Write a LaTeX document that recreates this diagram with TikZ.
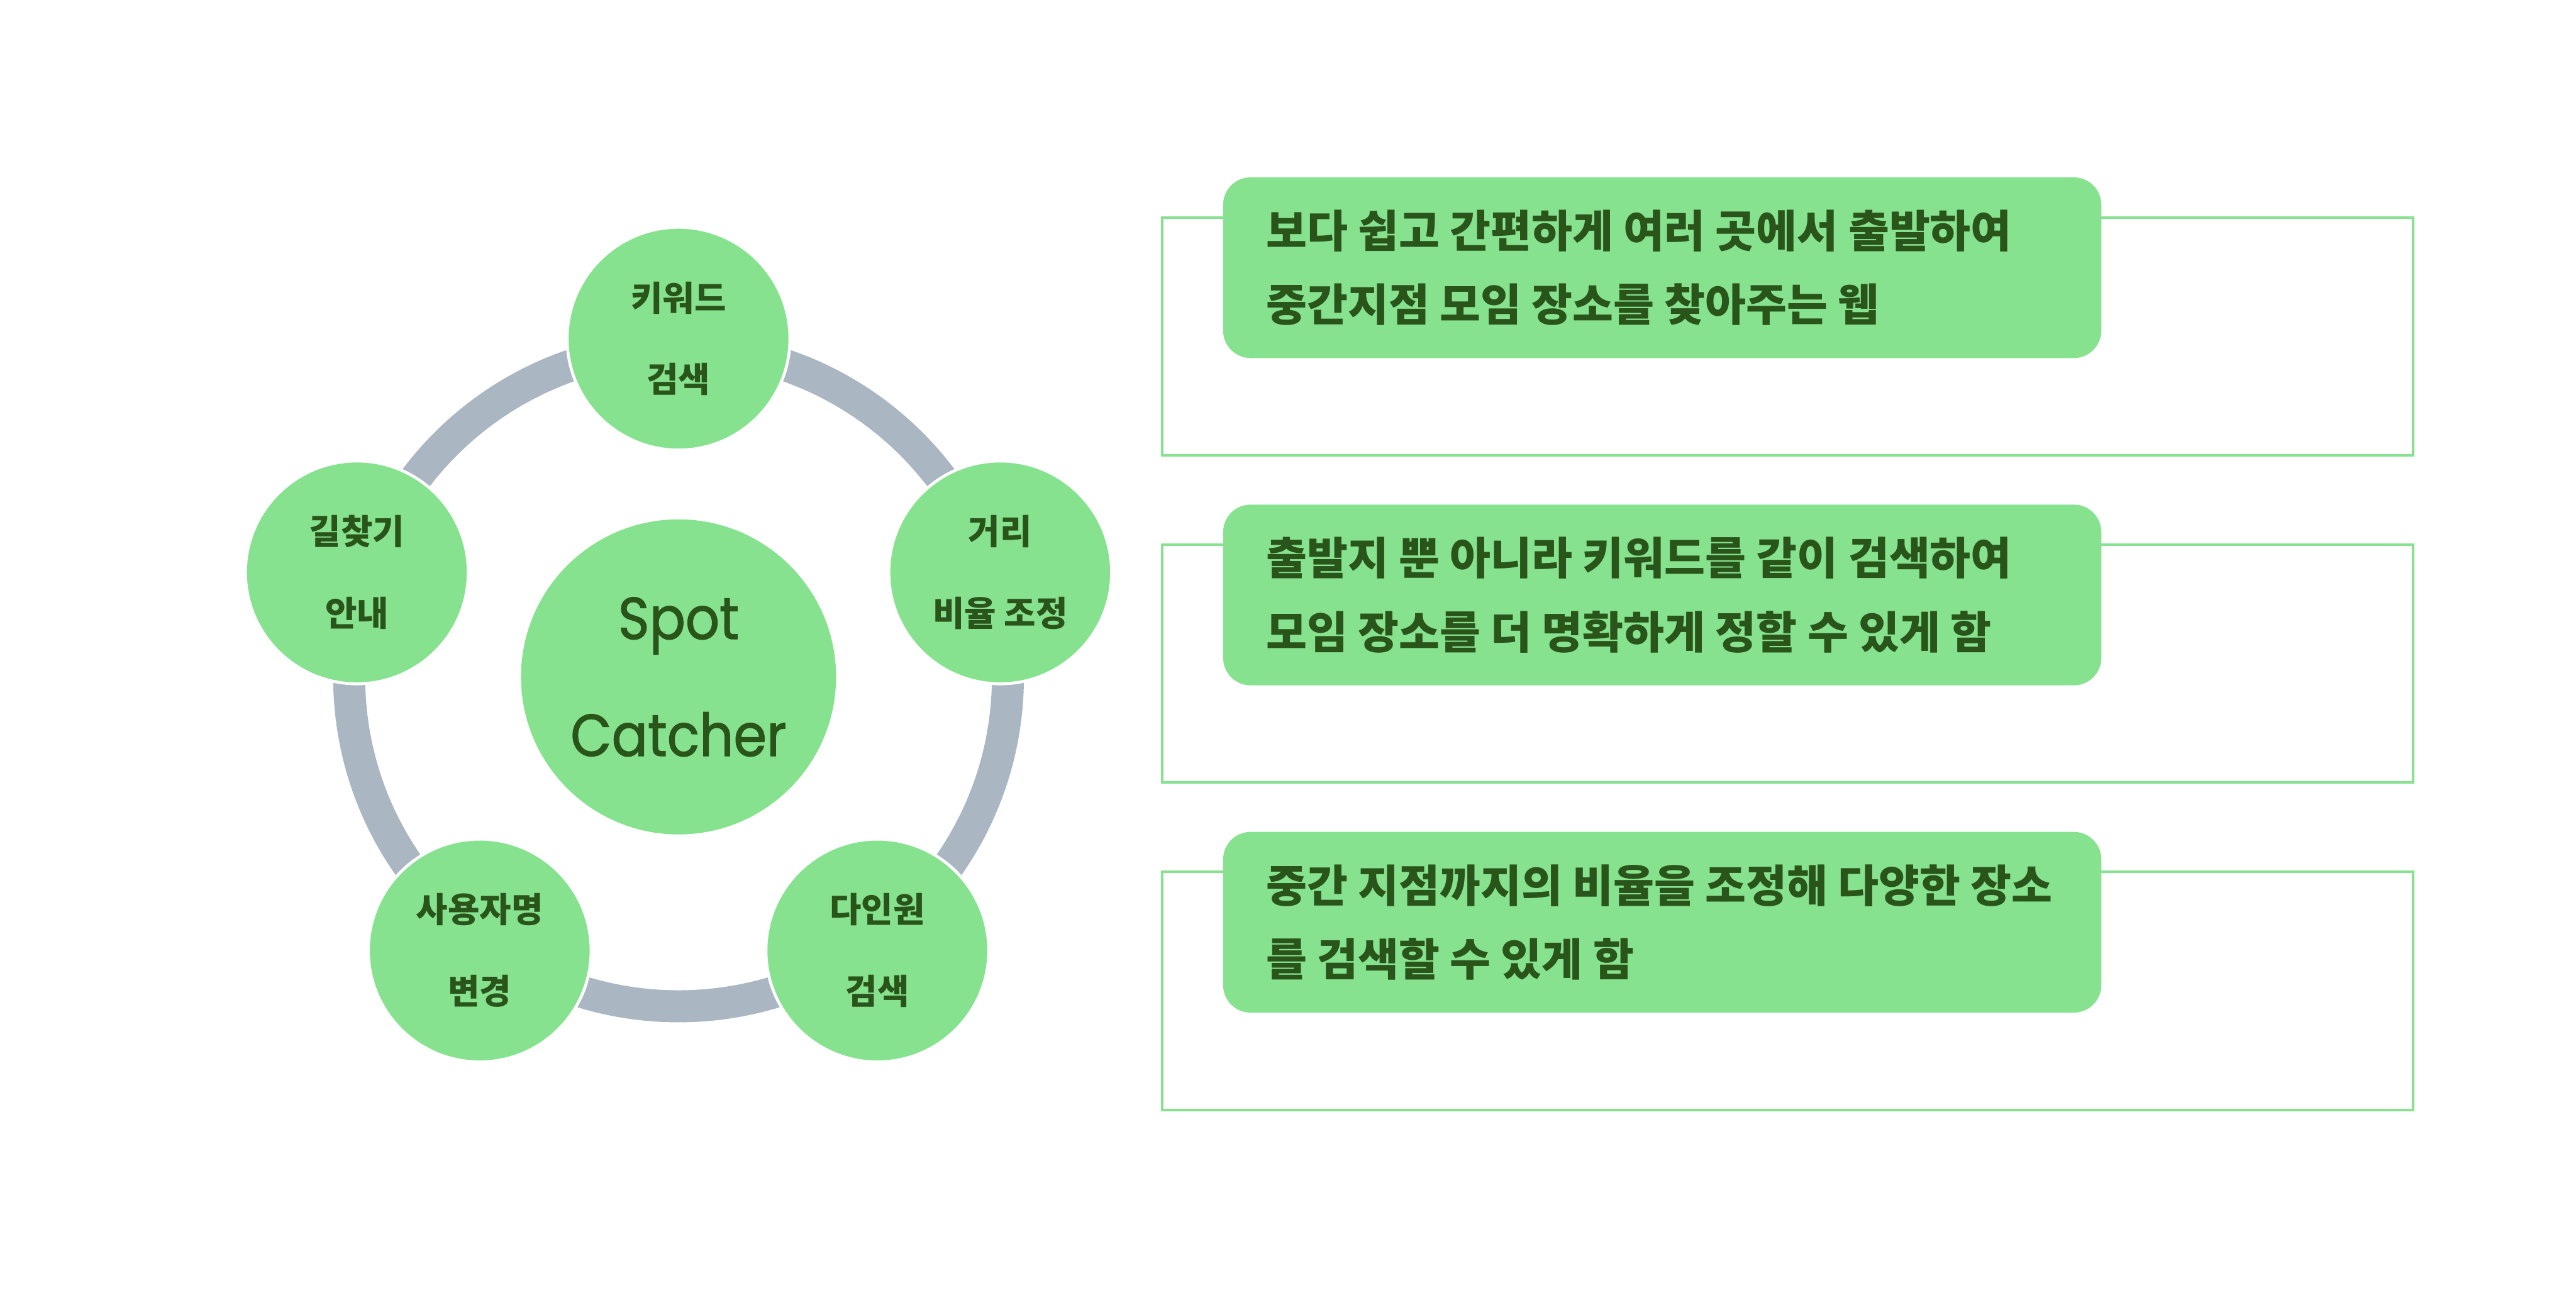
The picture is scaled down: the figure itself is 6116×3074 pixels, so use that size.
\documentclass[tikz,border=0pt]{standalone}
\usepackage{fontspec}
\newfontfamily\kr{Noto Sans CJK KR}
\newfontfamily\lat{Poppins}[FakeStretch=0.9, FakeBold=1.3]
\definecolor{leaf}{RGB}{135,226,143}
\definecolor{ringgray}{RGB}{170,182,194}
\definecolor{ink}{RGB}{41,84,26}
\tikzset{
  sat/.style={circle, fill=leaf, draw=white, line width=0.7mm, minimum size=52.9mm, inner sep=0pt,
    text=ink, align=center, font=\kr\bfseries\fontsize{23.3pt}{55.2pt}\selectfont},
  hub/.style={circle, fill=leaf, minimum size=74.8mm, inner sep=0pt, text=ink, align=center,
    font=\lat\fontsize{40pt}{79pt}\selectfont},
  frame/.style={draw=leaf, line width=0.6mm, minimum width=297mm, minimum height=56.5mm, inner sep=0pt},
  tag/.style={fill=leaf, rounded corners=6.5mm, minimum width=208.5mm, minimum height=42.9mm, inner sep=0pt},
  tagtext/.style={anchor=west, inner sep=0pt, text=ink, align=left,
    font=\kr\bfseries\fontsize{30pt}{50pt}\selectfont}
}
\begin{document}
\begin{tikzpicture}[x=0.1mm, y=-0.1mm]
\useasboundingbox (0,0) rectangle (6116,3074);
% ring
\coordinate (rc) at (1611,1607);
\draw[ringgray, line width=7.6mm] (rc) circle[radius=78.2mm];
% hub
\node[hub] (hubn) at (rc) {Spot\\Catcher};
% satellites
\node[sat] (s1) at (1611,804) {키워드\\검색};
\node[sat] (s2) at (2374.7,1358.9) {거리\\비율 조정};
\node[sat] (s3) at (2083.0,2256.6) {다인원\\검색};
\node[sat] (s4) at (1139.0,2256.6) {사용자명\\변경};
\node[sat] (s5) at (847.3,1358.9) {길찾기\\안내};
% boxes
\foreach \i/\txt in {0/{보다 쉽고 간편하게 여러 곳에서 출발하여\\중간지점 모임 장소를 찾아주는 웹},
                     1/{출발지 뿐 아니라 키워드를 같이 검색하여\\모임 장소를 더 명확하게 정할 수 있게 함},
                     2/{중간 지점까지의 비율을 조정해 다양한 장소\\를 검색할 수 있게 함}}{
  \node[frame] (f\i) at (4244,798.5+777*\i) {};
  \node[tag] (g\i) at (3946.5,635.5+777*\i) {};
  \node[tagtext] (t\i) at (3006,635.5+777*\i) {\txt};
}
\end{tikzpicture}
\end{document}
